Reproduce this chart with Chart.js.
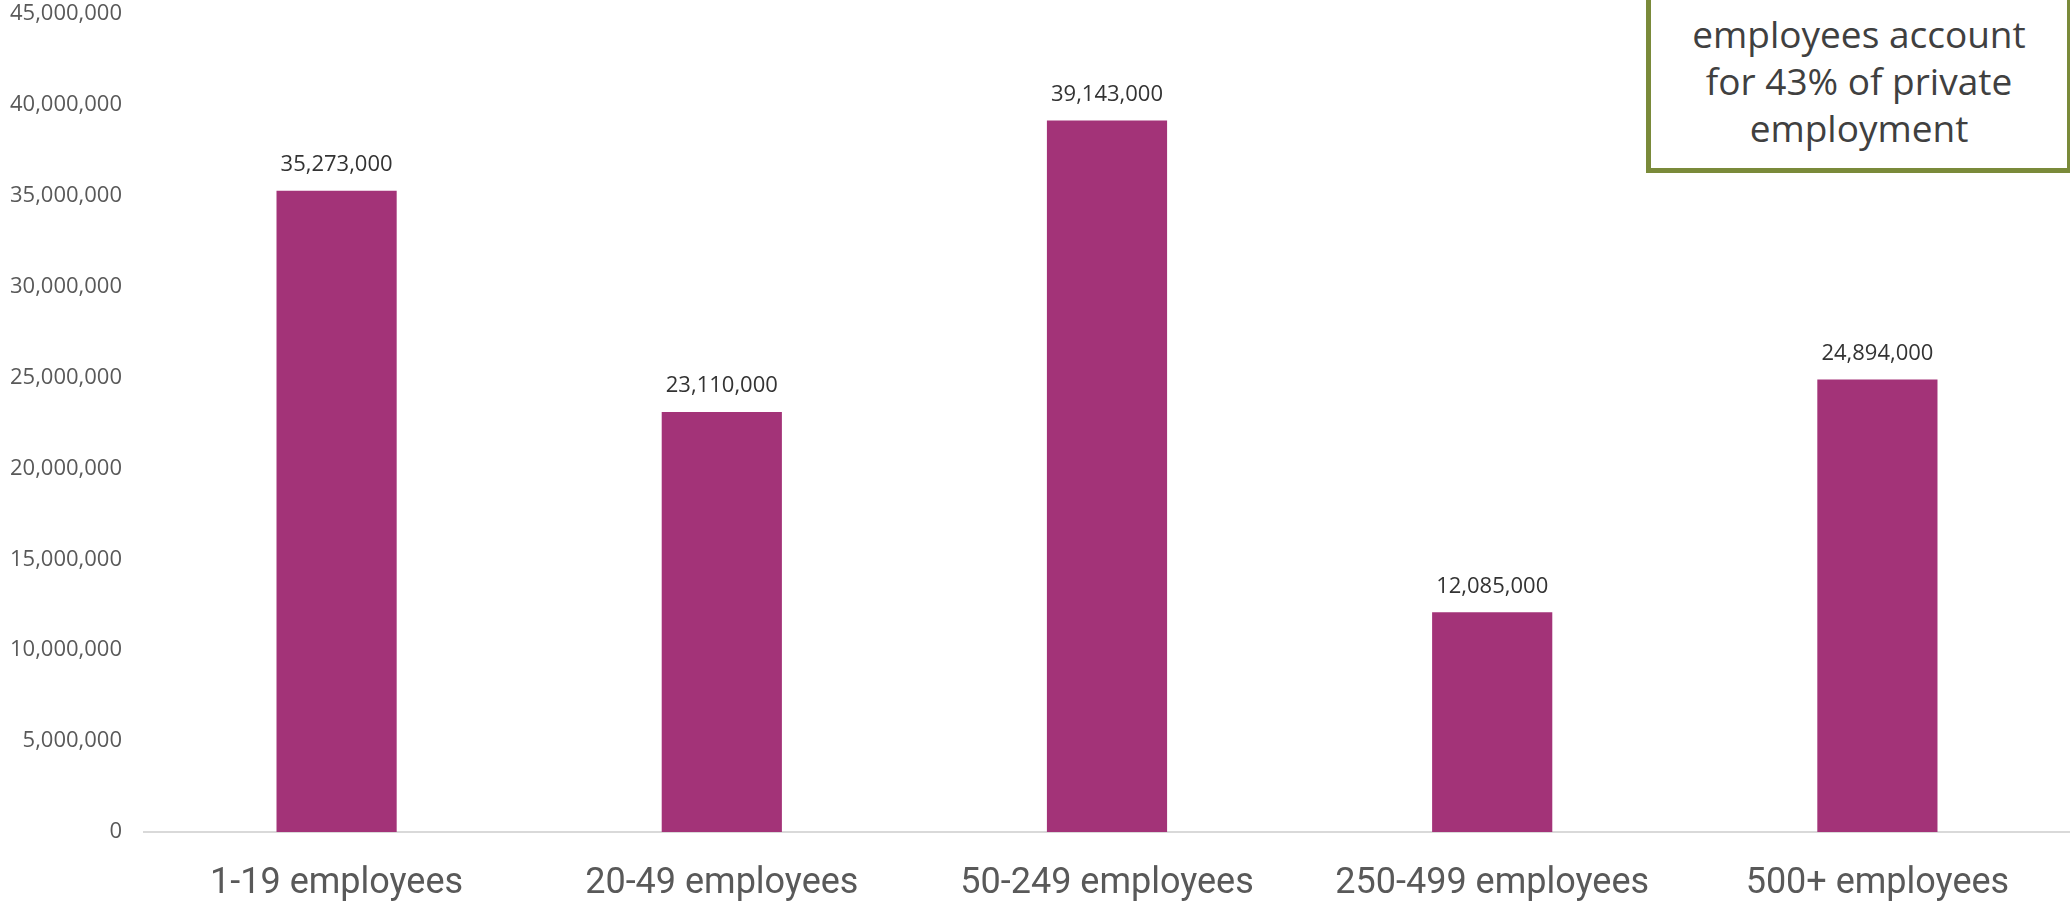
<!DOCTYPE html>
<html>
<head>
<meta charset="utf-8">
<script src="https://cdn.jsdelivr.net/npm/chart.js@4.4.1/dist/chart.umd.min.js"></script>
<style>
    html, body { margin: 0; padding: 0; background: #fff; overflow: hidden; }
    #wrap { position: relative; width: 2070px; height: 901px; }
    #callout {
        position: absolute;
        left: 1646px;
        top: -30px;
        width: 416px;
        height: 193px;
        border: 5px solid #7a8a3a;
        background: #fff;
        box-sizing: content-box;
        font-family: 'Open Sans', sans-serif;
        font-size: 37px;
        line-height: 47px;
        color: #404040;
        text-align: center;
    }
    #callout .linhas { position: absolute; left: 0; right: 0; top: 35px; }
</style>
</head>
<body>
<div id="wrap">
    <canvas id="grafico" width="2070" height="901"></canvas>
    <div id="callout"><div class="linhas">employees account<br>for 43% of private<br>employment</div></div>
</div>
<script>
const categorias = ['1-19 employees', '20-49 employees', '50-249 employees', '250-499 employees', '500+ employees'];
const empregados = [35273000, 23110000, 39143000, 12085000, 24894000];
const yMin = 0;
const yMax = 45000000;
const yPasso = 5000000;

const formatoNumero = (valor) => valor.toLocaleString('en-US');

// rótulos de valor em cima de cada barra
const rotulosBarras = {
    id: 'rotulosBarras',
    afterDatasetsDraw(chart) {
        const ctx = chart.ctx;
        const meta = chart.getDatasetMeta(0);
        ctx.save();
        ctx.font = '22px "Open Sans", sans-serif';
        ctx.fillStyle = '#333333';
        ctx.textAlign = 'center';
        ctx.textBaseline = 'middle';
        meta.data.forEach((barra, i) => {
            ctx.fillText(formatoNumero(empregados[i]), barra.x, barra.y - 26);
        });
        ctx.restore();
    }
};

const ctx = document.querySelector('#grafico');
new Chart(ctx, {
    type: 'bar',
    data: {
        labels: categorias,
        datasets: [
            {
                data: empregados,
                backgroundColor: '#a33378',
                barPercentage: 0.312,
                categoryPercentage: 1
            }
        ]
    },
    options: {
        responsive: false,
        animation: false,
        layout: { padding: 0 },
        plugins: {
            legend: { display: false },
            tooltip: { enabled: false }
        },
        scales: {
            x: {
                afterFit: (eixo) => { eixo.height = 69; },
                grid: { display: false, drawTicks: false },
                border: { display: true, color: '#d9d9d9', width: 2 },
                ticks: {
                    padding: 30,
                    color: '#595959',
                    font: { family: 'Roboto', size: 36 }
                }
            },
            y: {
                min: yMin,
                max: yMax,
                afterFit: (eixo) => {
                    eixo.width = 144;
                    eixo.paddingTop = 14;
                },
                grid: { display: false, drawTicks: false },
                border: { display: false },
                ticks: {
                    stepSize: yPasso,
                    padding: 22,
                    color: '#595959',
                    font: { family: 'Open Sans', size: 22 },
                    callback: (v) => formatoNumero(v)
                }
            }
        }
    },
    plugins: [rotulosBarras]
});
</script>
</body>
</html>
